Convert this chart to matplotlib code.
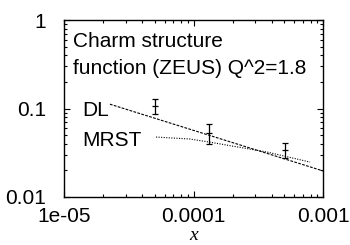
import numpy as np
import matplotlib
matplotlib.use('Agg')
import matplotlib.pyplot as plt
from matplotlib.ticker import LogLocator, NullFormatter, FixedLocator, FixedFormatter

plt.rcParams['font.family'] = ['Liberation Sans', 'DejaVu Sans']

# ZEUS charm data points
zeus_x = [5.05e-5, 1.32e-4, 5.1e-4]
zeus_y = [0.107, 0.053, 0.034]
zeus_err = [0.021, 0.013, 0.0066]

# DL power law curve
dl_x = [2.26e-5, 1e-3]
dl_y = [0.112, 0.0197]

# MRST curve
mrst_x = [5.13e-5, 9.4e-5, 1.32e-4, 3.7e-4, 7.94e-4]
mrst_y = [0.0476, 0.0452, 0.0418, 0.0322, 0.0248]

xticks = [1e-5, 1e-4, 1e-3]
xticklabels = ['1e-05', '0.0001', '0.001']
yticks = [0.01, 0.1, 1]
yticklabels = ['0.01', '0.1', '1']

fig = plt.figure(figsize=(3.5, 2.45), dpi=100)
ax = fig.add_axes([0.183, 0.196, 0.740, 0.722])

ax.set_xscale('log')
ax.set_yscale('log')
ax.set_xlim(1e-5, 1e-3)
ax.set_ylim(0.01, 1)

ax.plot(dl_x, dl_y, color='black', lw=0.8, ls=(0, (2.5, 1.2)))
ax.plot(mrst_x, mrst_y, color='black', lw=0.8, ls=(0, (1, 1.3)))
ax.errorbar(zeus_x, zeus_y, yerr=zeus_err, fmt='_', color='black',
            ms=5, mew=0.9, elinewidth=0.9, capsize=2.5, capthick=0.9)

ax.text(0.035, 0.847, 'Charm structure', transform=ax.transAxes,
        fontsize=15, ha='left', va='baseline')
ax.text(0.035, 0.695, 'function (ZEUS) Q^2=1.8', transform=ax.transAxes,
        fontsize=15, ha='left', va='baseline')
ax.text(0.172, 0.458, 'DL', transform=ax.transAxes,
        fontsize=15, ha='right', va='baseline')
ax.text(0.300, 0.288, 'MRST', transform=ax.transAxes,
        fontsize=15, ha='right', va='baseline')

ax.xaxis.set_major_locator(FixedLocator(xticks))
ax.xaxis.set_major_formatter(FixedFormatter(xticklabels))
ax.yaxis.set_major_locator(FixedLocator(yticks))
ax.yaxis.set_major_formatter(FixedFormatter(yticklabels))
ax.xaxis.set_minor_locator(LogLocator(base=10, subs=np.arange(2, 10)))
ax.yaxis.set_minor_locator(LogLocator(base=10, subs=np.arange(2, 10)))
ax.xaxis.set_minor_formatter(NullFormatter())
ax.yaxis.set_minor_formatter(NullFormatter())

ax.tick_params(which='both', direction='in', top=True, right=True, width=0.8)
ax.tick_params(which='major', length=4, labelsize=15)
ax.tick_params(axis='x', which='major', pad=7)
ax.tick_params(axis='y', which='major', pad=13)
ax.tick_params(which='minor', length=2)
for s in ax.spines.values():
    s.set_linewidth(1.0)

ax.set_xlabel('x', family=['Liberation Serif', 'DejaVu Serif'], style='italic',
              fontsize=14, labelpad=1)

fig.savefig('out.png', dpi=100)
